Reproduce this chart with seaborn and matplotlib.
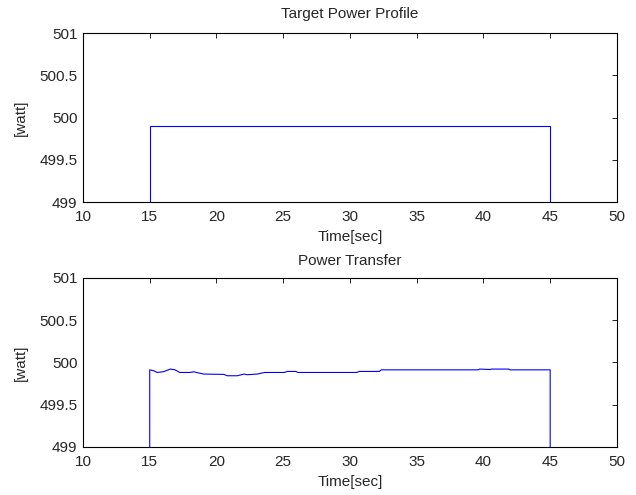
import matplotlib
matplotlib.use("Agg")
import matplotlib.pyplot as plt
import seaborn as sns

# Target power profile
target_time = [0, 15, 15, 26.6, 26.6, 38.4, 38.4, 45, 45, 60]
target_power = [0, 0, 499.90, 499.90, 499.904, 499.904, 499.90, 499.90, 0, 0]

# Power transfer
transfer_time = [0, 15, 15, 15.3, 15.55, 16.0, 16.55, 16.9, 17.25, 18.0, 18.3, 18.6, 19.06,
                 20.56, 20.8, 21.56, 22.07, 22.3, 23.07, 23.6, 25.1, 25.3, 25.95, 26.1,
                 30.5, 30.7, 32.2, 32.35, 39.6, 39.7, 40.5, 40.6, 41.9, 42.0, 45, 45, 60]
transfer_power = [0, 0, 499.913, 499.902, 499.882, 499.890, 499.922, 499.913, 499.882,
                  499.882, 499.890, 499.878, 499.863, 499.859, 499.843, 499.843, 499.863,
                  499.855, 499.863, 499.882, 499.882, 499.894, 499.894, 499.882,
                  499.882, 499.894, 499.894, 499.913, 499.913, 499.922, 499.917, 499.922,
                  499.922, 499.913, 499.913, 0, 0]

x_ticks = [10, 15, 20, 25, 30, 35, 40, 45, 50]
y_ticks = [499, 499.5, 500, 500.5, 501]
y_tick_labels = ["499", "499.5", "500", "500.5", "501"]

sns.set_style("white")
plt.rcParams['font.family'] = ['Liberation Sans', 'DejaVu Sans']

txt = "#262626"
fig = plt.figure(figsize=(6.36, 4.95), dpi=100)
ax1 = fig.add_axes([0.1305, 0.5919, 0.8395, 0.3414])
ax2 = fig.add_axes([0.1305, 0.0970, 0.8395, 0.3414])

for ax, t, p, title, tpad in [(ax1, target_time, target_power, "Target Power Profile", 11),
                              (ax2, transfer_time, transfer_power, "Power Transfer", 9)]:
    sns.lineplot(x=t, y=p, ax=ax, estimator=None, sort=False, color="#0000ff", linewidth=0.8)
    ax.set_xlim(10, 50)
    ax.set_ylim(499, 501)
    ax.set_xticks(x_ticks)
    ax.set_yticks(y_ticks)
    ax.set_yticklabels(y_tick_labels)
    ax.tick_params(direction="in", top=True, right=True, length=3.5, width=0.6,
                   labelsize=11, color="black", labelcolor=txt)
    ax.tick_params(axis="x", pad=6)
    ax.tick_params(axis="y", pad=4)
    for s in ax.spines.values():
        s.set_color("black")
        s.set_linewidth(0.8)
    ax.set_title(title, fontsize=11, pad=tpad, color=txt)
    ax.set_xlabel("Time[sec]", fontsize=11, labelpad=4, color=txt)
    ax.set_ylabel("[watt]", fontsize=11, labelpad=8, color=txt)

fig.savefig("out.png", dpi=100)
